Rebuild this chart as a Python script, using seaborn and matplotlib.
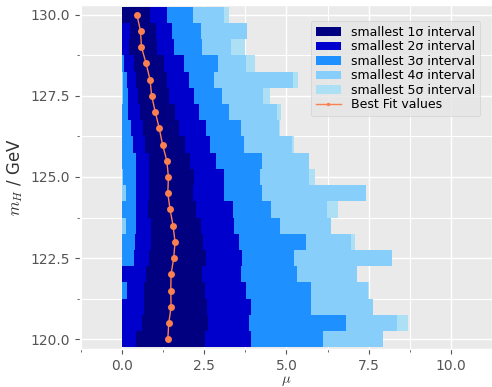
import matplotlib
matplotlib.use("Agg")
import matplotlib.pyplot as plt
import seaborn as sns
from pandas import DataFrame
from matplotlib.ticker import MultipleLocator

# Higgs mass points (GeV), from 120 to 130
mass = [120.0, 120.5, 121.0, 121.5, 122.0, 122.5, 123.0, 123.5, 124.0, 124.5, 125.0,
        125.5, 126.0, 126.5, 127.0, 127.5, 128.0, 128.5, 129.0, 129.5, 130.0]

best_fit = [1.39, 1.42, 1.49, 1.48, 1.49, 1.57, 1.61, 1.55, 1.46, 1.39, 1.41,
            1.36, 1.23, 1.13, 1.01, 0.90, 0.85, 0.73, 0.59, 0.56, 0.45]

# interval bounds, one list per sigma level
lo_1 = [0.43, 0.60, 0.67, 0.67, 0.73, 0.82, 0.88, 0.87, 0.80, 0.83, 0.83,
        0.82, 0.70, 0.65, 0.53, 0.48, 0.43, 0.35, 0.22, 0.24, 0.00]
hi_1 = [2.53, 2.61, 2.58, 2.51, 2.43, 2.55, 2.46, 2.40, 2.26, 2.17, 2.20,
        2.07, 1.90, 1.74, 1.60, 1.44, 1.38, 1.26, 1.06, 1.04, 0.85]
lo_2 = [0.00, 0.00, 0.00, 0.15, 0.00, 0.36, 0.39, 0.43, 0.41, 0.41, 0.42,
        0.43, 0.33, 0.27, 0.18, 0.18, 0.15, 0.05, 0.00, 0.00, 0.00]
hi_2 = [3.93, 3.87, 3.93, 3.77, 3.62, 3.65, 3.55, 3.40, 3.36, 3.11, 3.11,
        2.87, 2.68, 2.55, 2.33, 2.20, 2.02, 1.89, 1.57, 1.51, 1.36]
lo_3 = [0.00, 0.00, 0.00, 0.00, 0.00, 0.00, 0.00, 0.12, 0.00, 0.12, 0.03,
        0.00, 0.00, 0.00, 0.00, 0.03, 0.03, 0.00, 0.00, 0.00, 0.00]
hi_3 = [6.12, 6.82, 5.75, 5.75, 5.33, 5.24, 5.60, 4.79, 4.53, 4.24, 4.19,
        4.24, 3.72, 3.62, 3.26, 3.04, 2.80, 2.91, 2.43, 2.40, 2.17]
lo_4 = [0.0] * 21
hi_4 = [7.94, 8.37, 7.64, 7.48, 7.15, 8.22, 6.95, 6.34, 6.22, 7.43, 5.68,
        5.68, 5.17, 4.77, 4.70, 4.28, 5.19, 3.77, 3.31, 3.80, 3.11]
lo_5 = [0.0] * 21
hi_5 = [7.94, 8.71, 7.64, 7.52, 7.15, 8.22, 7.08, 6.34, 6.58, 7.43, 5.86,
        5.68, 5.22, 4.80, 4.82, 4.51, 5.35, 4.04, 3.75, 3.80, 3.24]

levels = [
    ("smallest 1σ interval", lo_1, hi_1, "#000080"),
    ("smallest 2σ interval", lo_2, hi_2, "#0000CD"),
    ("smallest 3σ interval", lo_3, hi_3, "#1E90FF"),
    ("smallest 4σ interval", lo_4, hi_4, "#87CEFA"),
    ("smallest 5σ interval", lo_5, hi_5, "#ADDFF5"),
]

plt.style.use("ggplot")
plt.rcParams["mathtext.fontset"] = "cm"
fig = plt.figure(figsize=(4.92, 3.87), dpi=100)
ax = fig.add_axes([0.1626, 0.0982, 0.8374, 0.8889])
ax.set_facecolor("#EAEAEA")

handles = {}
for name, lo, hi, col in reversed(levels):
    widths = [h - l for l, h in zip(lo, hi)]
    handles[name] = ax.barh(mass, widths, left=lo, height=0.5, color=col, label=name)

fit = DataFrame({"mass": mass, "best_fit": best_fit})
sns.lineplot(data=fit, x="best_fit", y="mass", orient="y", sort=False, estimator=None,
             color="#FA8050", marker="o", markersize=5, markeredgewidth=0,
             linewidth=1, label="Best Fit values", ax=ax)

ax.xaxis.set_major_locator(MultipleLocator(2.5))
ax.xaxis.set_minor_locator(MultipleLocator(1.25))
ax.yaxis.set_major_locator(MultipleLocator(2.5))
ax.yaxis.set_minor_locator(MultipleLocator(1.25))
ax.grid(which="major", color="white", linewidth=1.0)
ax.grid(which="minor", color="white", linewidth=0.8)
ax.set_xlim(-1.28, 11.25)
ax.set_ylim(119.7, 130.3)
ax.tick_params(axis="x", which="major", pad=3.5)

ax.set_xlabel(r"$\mu$", fontsize=10.5, labelpad=0, color="#333333")
ax.set_ylabel(r"$m_H$ / GeV", fontsize=12, labelpad=4, color="#333333")

line_handle = ax.get_lines()[0]
order = [handles[name] for name, *_ in levels] + [line_handle]
labels = [name for name, *_ in levels] + ["Best Fit values"]
ax.legend(order, labels, loc="upper right", bbox_to_anchor=(0.971, 0.954),
          borderaxespad=0, fontsize=9, labelspacing=0.12, markerscale=0.5,
          handlelength=2.0)

plt.savefig("out.png", dpi=100)
